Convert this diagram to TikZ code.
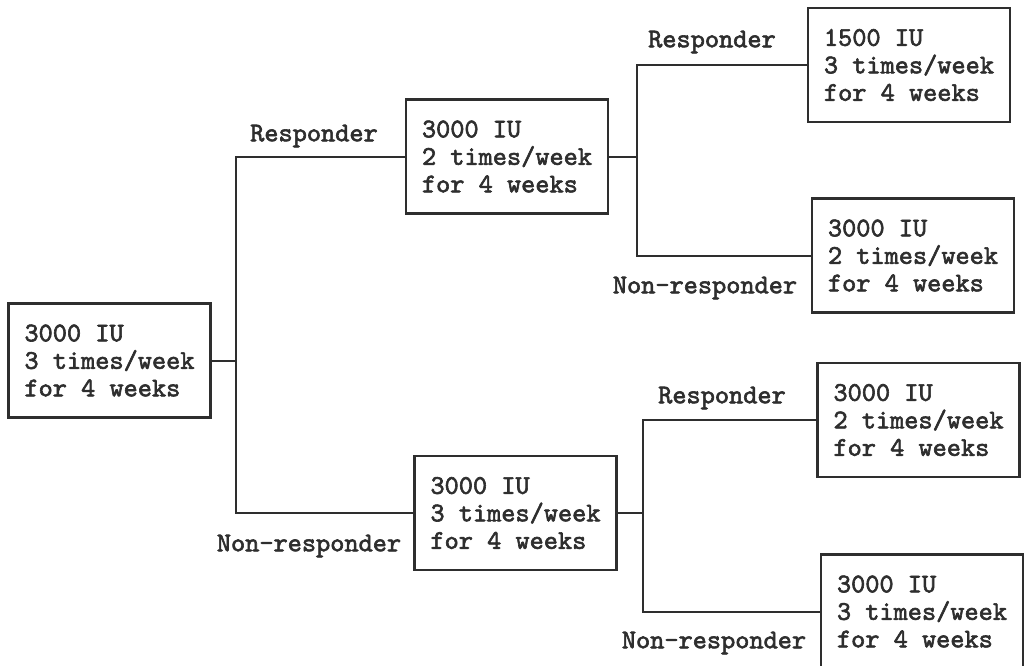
\documentclass[tikz,border=0pt]{standalone}
\usepackage{fontspec}
\newfontfamily\diagfont{lmmono10-regular}[Extension=.otf, FakeBold=2.2]
\definecolor{ink}{HTML}{2E2E2E}
\newcommand{\diagfontsel}{\diagfont\fontsize{27pt}{27.5pt}\selectfont}
\begin{document}
\begin{tikzpicture}[x=1pt,y=-1pt,
  box/.style={draw=ink, line width=2.2pt, minimum width=202pt, minimum height=114pt,
    align=left, inner sep=0pt, text=ink, font=\diagfontsel},
  lbl/.style={text=ink, inner sep=0pt, font=\diagfontsel},
  conn/.style={draw=ink, line width=2pt}]
\useasboundingbox (0,0) rectangle (1025,666);
\fill[white] (0,0) rectangle (1025,666);
\node[box] (A) at (109.5,360.5) {3000 IU\\3 times/week\\for 4 weeks};
\node[box] (B) at (507,156.5) {3000 IU\\2 times/week\\for 4 weeks};
\node[box] (C) at (515.5,513) {3000 IU\\3 times/week\\for 4 weeks};
\node[box] (D) at (909,65) {1500 IU\\3 times/week\\for 4 weeks};
\node[box] (E) at (913,255.5) {3000 IU\\2 times/week\\for 4 weeks};
\node[box] (F) at (918.5,420) {3000 IU\\2 times/week\\for 4 weeks};
\node[box] (G) at (922,611.5) {3000 IU\\3 times/week\\for 4 weeks};
\coordinate (j1) at (236,360.5);
\coordinate (j2) at (637,156.5);
\coordinate (j3) at (643,513);
\draw[conn] (A.east) -- (j1);
\draw[conn] (B.west) -| (j1) |- (C.west);
\draw[conn] (B.east) -- (j2);
\draw[conn] (D.west) -| (j2) |- (E.west);
\draw[conn] (C.east) -- (j3);
\draw[conn] (F.west) -| (j3) |- (G.west);
\node[lbl] (r1) at (314,136) {Responder};
\node[lbl] (n1) at (309,546) {Non-responder};
\node[lbl] (r2) at (712,42) {Responder};
\node[lbl] (n2) at (705,288) {Non-responder};
\node[lbl] (r3) at (722,398) {Responder};
\node[lbl] (n3) at (714,643) {Non-responder};
\end{tikzpicture}
\end{document}
